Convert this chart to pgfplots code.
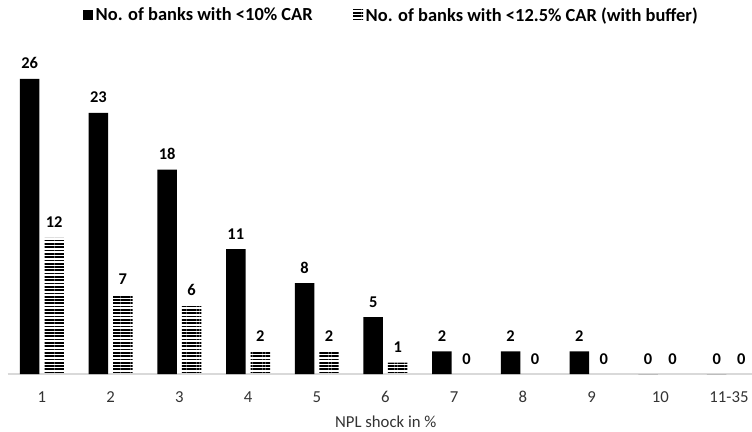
\documentclass[border=0pt]{standalone}
\usepackage{fontspec}
\setmainfont{Carlito}
\usepackage{pgfplots}
\pgfplotsset{compat=1.18}
\usetikzlibrary{patterns.meta}
\newcommand{\fs}{\fontsize{16.8}{19}\selectfont}
\newcommand{\fsb}{\fontsize{16.5}{19}\selectfont\bfseries}
\newcommand{\fsl}{\fontsize{18.5}{21}\selectfont\bfseries}
\begin{document}
\begin{tikzpicture}
\useasboundingbox (0,0) rectangle (752bp,432bp);
\begin{axis}[
  at={(7.6bp,58bp)}, anchor=south west,
  scale only axis, width=744.4bp, height=317.8bp,
  ymin=0, ymax=28, xmin=-0.5, xmax=10.335,
  ybar=5bp, bar width=19.5bp,
  axis x line*=bottom, axis y line=none,
  x axis line style={draw=black!15, line width=1.3bp},
  xtick=data, major tick length=0pt,
  xticklabels={1,2,3,4,5,6,7,8,9,10,11-35},
  xticklabel style={anchor=base, inner sep=0pt, yshift=-28bp, text=black!80, font=\fs},
  xlabel={NPL shock in \%},
  xlabel style={at={(axis description cs:0.508,0)}, anchor=base, inner sep=0pt, yshift=-53.5bp, text=black!80, font=\fs},
  /pgf/number format/assume math mode=true,
  nodes near coords,
  every node near coord/.append style={anchor=base, inner sep=0pt, yshift=10bp, font=\fsb, text=black},
  legend columns=2,
  legend style={at={(axis description cs:0.1013,1.162)}, anchor=north west, draw=none, fill=none, inner sep=0pt,
    font=\fsl, /tikz/every even column/.append style={column sep=38bp},
    nodes={inner sep=2.5bp}},
  clip=false,
]
\addplot[fill=black, draw=none, legend image code/.code={\fill[black] (0bp,-5bp) rectangle (10bp,5bp);}]
  coordinates {(0,26) (1,23) (2,18) (3,11) (4,8) (5,5) (6,2) (7,2) (8,2) (9,0) (10,0)};
\addlegendentry{No. of banks with <10\% CAR}
\addplot[draw=none, pattern={Lines[angle=0,distance=3.3bp,line width=1.7bp]}, pattern color=black,
  legend image code/.code={\fill[pattern={Lines[angle=0,distance=3.3bp,line width=1.5bp]}] (0bp,-5bp) rectangle (10bp,5bp);}]
  coordinates {(0,12) (1,7) (2,6) (3,2) (4,2) (5,1) (6,0) (7,0) (8,0) (9,0) (10,0)};
\addlegendentry{No. of banks with <12.5\% CAR (with buffer)}
\end{axis}
\end{tikzpicture}
\end{document}
